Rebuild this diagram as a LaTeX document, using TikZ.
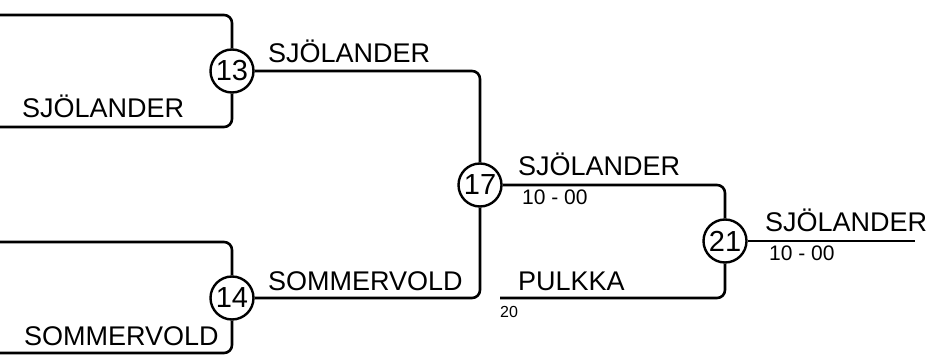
\documentclass[tikz,border=0pt]{standalone}
\usepackage{fontspec}
\setmainfont{Liberation Sans}
\begin{document}
\begin{tikzpicture}[x=1pt,y=-1pt,
  ln/.style={line width=2.6pt, rounded corners=8pt},
  numc/.style={circle, draw, line width=2.4pt, inner sep=0pt, minimum size=43pt, font=\fontsize{29}{29}\selectfont},
  namelbl/.style={anchor=base west, inner sep=0pt, font=\fontsize{27}{27}\selectfont},
  scorelbl/.style={anchor=base west, inner sep=0pt, font=\fontsize{21}{21}\selectfont},
  smalllbl/.style={anchor=base west, inner sep=0pt, font=\fontsize{16}{16}\selectfont}]
\useasboundingbox (0,0) rectangle (928,355);
% circles
\node[numc] (n13) at (232,71) {13};
\node[numc] (n14) at (232,298) {14};
\node[numc] (n17) at (480,185) {17};
\node[numc] (n21) at (725,241) {21};
% bracket ends
\coordinate (a1) at (0,15);
\coordinate (a2) at (0,127);
\coordinate (b1) at (0,242);
\coordinate (b2) at (0,353);
\coordinate (c2) at (500,298);
\coordinate (d1) at (915,241);
% lines
\draw[ln] (a1) -- (232,15) -- (n13.north);
\draw[ln] (n13.south) -- (232,127) -- (a2);
\draw[ln] (b1) -- (232,242) -- (n14.north);
\draw[ln] (n14.south) -- (232,353) -- (b2);
\draw[ln] (n13.east) -- (480,71) -- (n17.north);
\draw[ln] (n14.east) -- (480,298) -- (n17.south);
\draw[ln] (n17.east) -- (725,185) -- (n21.north);
\draw[ln] (n21.south) -- (725,298) -- (c2);
\draw[ln] (n21.east) -- (d1);
% labels
\node[namelbl] (t1) at (22,118) {SJÖLANDER};
\node[namelbl] (t2) at (268,63) {SJÖLANDER};
\node[namelbl] (t3) at (24,345) {SOMMERVOLD};
\node[namelbl] (t4) at (268,290) {SOMMERVOLD};
\node[namelbl] (t5) at (518,176) {SJÖLANDER};
\node[scorelbl] (s5) at (522,205) {10 - 00};
\node[namelbl] (t6) at (518,290) {PULKKA};
\node[smalllbl] (s6) at (500,317) {20};
\node[namelbl] (t7) at (765,232) {SJÖLANDER};
\node[scorelbl] (s7) at (769,261) {10 - 00};
\end{tikzpicture}
\end{document}
